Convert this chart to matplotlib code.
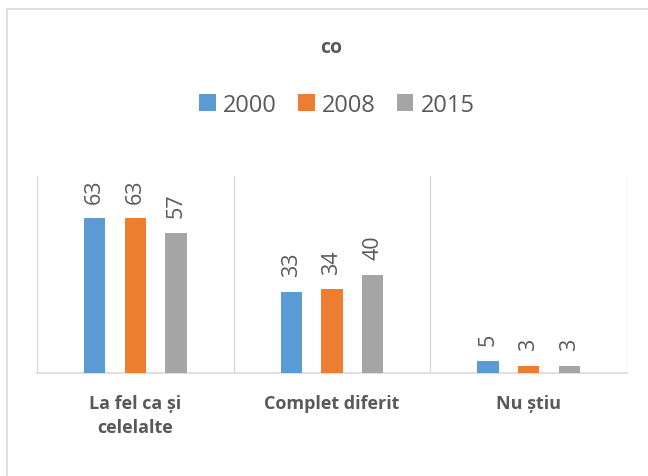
import numpy as np
import matplotlib
matplotlib.use("Agg")
import matplotlib.pyplot as plt
from matplotlib.patches import Rectangle, Patch

plt.rcParams['font.family'] = ['Open Sans', 'DejaVu Sans']

categories = ['La fel ca și\ncelelalte', 'Complet diferit', 'Nu știu']
years = ['2000', '2008', '2015']
v2000 = [63, 33, 5]
v2008 = [63, 34, 3]
v2015 = [57, 40, 3]
series = [v2000, v2008, v2015]
colors = ['#5B9BD5', '#ED7D31', '#A5A5A5']
txt = '#595959'

fig = plt.figure(figsize=(6.48, 4.77), dpi=100)
W, H = 648, 477
ax = fig.add_axes([37 / W, 1 - 374 / H, (627 - 37) / W, (374 - 177) / H])

x = np.arange(len(categories))
bw = 0.109
off = 0.207
for i, (vals, c) in enumerate(zip(series, colors)):
    pos = x + (i - 1) * off
    ax.bar(pos, vals, width=bw, color=c, zorder=3)
    for p, v in zip(pos, vals):
        ax.annotate(str(v), (p, v), xytext=(0, 11), textcoords='offset points',
                    rotation=90, ha='center', va='bottom', fontsize=15.5, color=txt)

ax.set_xlim(-0.5, 2.5)
ax.set_ylim(0, 80)
ax.set_yticks([])
ax.set_xticks(x)
ax.set_xticklabels(categories, fontsize=13, fontweight='bold', color=txt,
                   linespacing=1.45)
ax.tick_params(axis='x', length=0, pad=15)
for b in [-0.5, 0.5, 1.5, 2.5]:
    ax.axvline(b, color='#D9D9D9', lw=1, zorder=1)
for s in ['top', 'left', 'right']:
    ax.spines[s].set_visible(False)
ax.spines['bottom'].set_color('#D9D9D9')
ax.spines['bottom'].set_linewidth(1.2)

# chart frame
fig.patches.append(Rectangle((7 / W, -0.1), 1.2, 1 - 10 / H + 0.1,
                             transform=fig.transFigure, fill=False,
                             edgecolor='#D9D9D9', lw=1.2))

fig.text(331 / W, 1 - 48 / H, 'co', ha='center', va='center',
         fontsize=14, fontweight='bold', color=txt)

handles = [Patch(facecolor=c, edgecolor='none') for c in colors]
fig.legend(handles, years, loc='center', bbox_to_anchor=(337 / W, 1 - 106 / H),
           ncol=3, frameon=False, fontsize=17, labelcolor=txt,
           handlelength=0.7, handleheight=0.7, handletextpad=0.3,
           columnspacing=0.9)

fig.savefig('out.png', dpi=100)
